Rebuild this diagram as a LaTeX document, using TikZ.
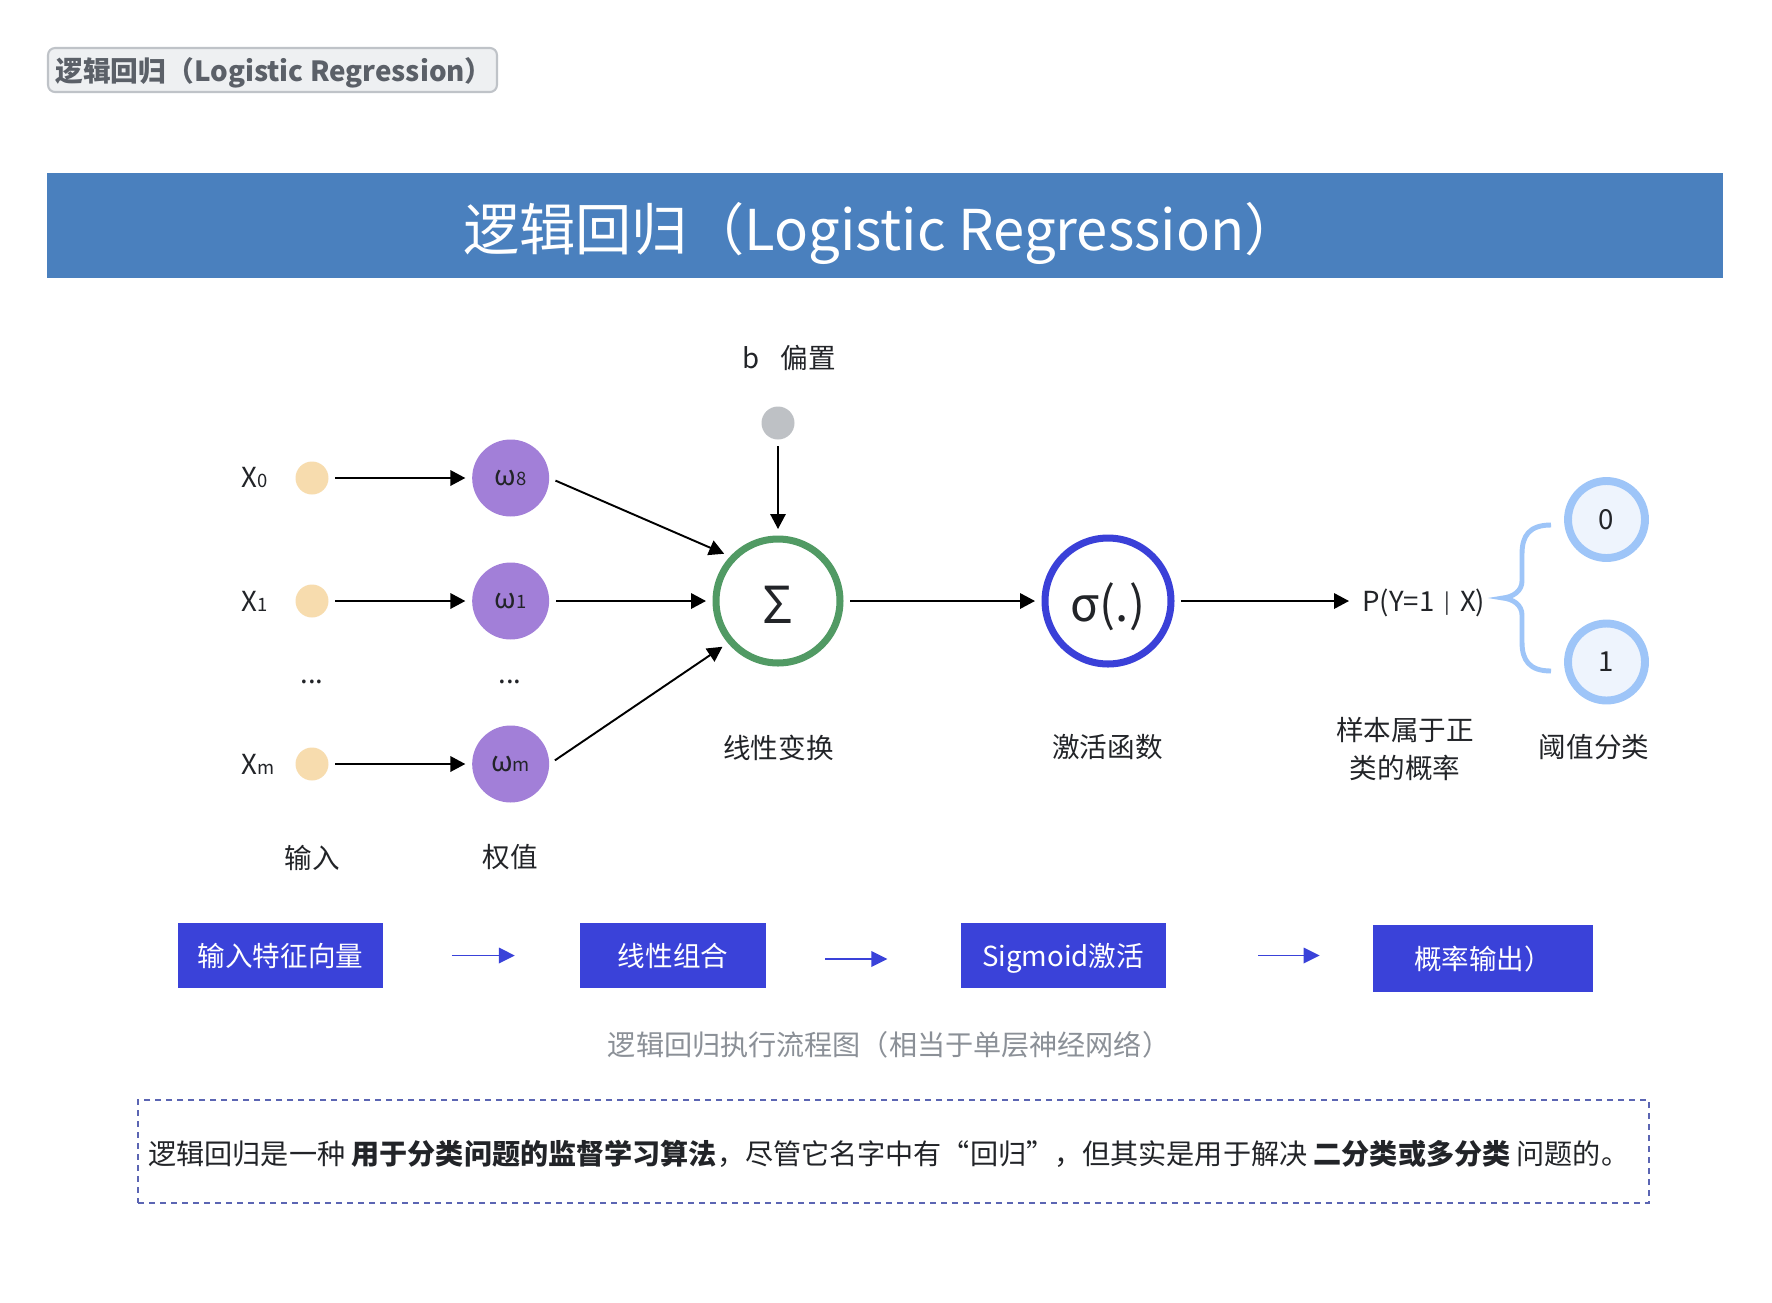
\documentclass[tikz,border=0pt]{standalone}
\usepackage{fontspec}
\setmainfont{Noto Sans CJK SC}
\usetikzlibrary{arrows.meta,positioning}
\definecolor{bannerblue}{HTML}{4A80BE}
\definecolor{tagfill}{HTML}{EEF0F2}
\definecolor{tagline}{HTML}{BFC3C8}
\definecolor{taggray}{HTML}{5B6068}
\definecolor{inputyellow}{HTML}{F7DCAE}
\definecolor{weightpurple}{HTML}{A27FD8}
\definecolor{sumgreen}{HTML}{519A64}
\definecolor{actblue}{HTML}{3A40D8}
\definecolor{biasgray}{HTML}{BEC1C5}
\definecolor{outblue}{HTML}{9EC5F8}
\definecolor{outfill}{HTML}{EEF4FD}
\definecolor{flowblue}{HTML}{3A42D9}
\definecolor{capgray}{HTML}{8B9097}
\definecolor{dashblue}{HTML}{5B65B3}
\definecolor{ink}{HTML}{222428}
\newcommand{\subidx}[1]{{\fontsize{10.5}{12}\selectfont #1}}

\begin{document}
\begin{tikzpicture}[x=0.02cm,y=-0.02cm,
   lbl/.style={text=ink,font=\fontsize{15.7}{21.5}\selectfont,inner sep=0pt,align=center},
   inp/.style={circle,fill=inputyellow,minimum size=0.66cm,inner sep=0pt},
   wt/.style={circle,fill=weightpurple,minimum size=1.54cm,inner sep=0pt,text=ink,
              font=\fontsize{15.7}{19}\selectfont},
   ring/.style={circle,line width=4pt,fill=white,inner sep=0pt},
   outc/.style={circle,draw=outblue,fill=outfill,line width=4.5pt,minimum size=1.54cm,
                inner sep=0pt,text=ink,font=\fontsize{15.7}{19}\selectfont},
   flow/.style={fill=flowblue,text=white,minimum height=1.3cm,inner sep=0pt,
                text height=16pt,text depth=3pt,font=\fontsize{15.7}{19}\selectfont},
   arr/.style={-{Triangle[length=3mm,width=3.1mm]},line width=1.1pt,
               shorten <=1.3mm,shorten >=1.3mm},
   flowarr/.style={-{Triangle[length=3.2mm,width=3.1mm]},line width=1.1pt,draw=flowblue}]
  \fill[white] (0,0) rectangle (1772,1302);
  \useasboundingbox (0,0) rectangle (1772,1302);

  % tag and title banner
  \node[draw=tagline,line width=1.2pt,fill=tagfill,rounded corners=4pt,
        minimum width=8.98cm,minimum height=0.88cm,inner sep=0pt] (tag) at (272.5,70) {};
  \node[anchor=west,inner sep=0pt,text=taggray,font=\bfseries\fontsize{15.8}{19}\selectfont]
       (tagtext) at ([xshift=0.16cm,yshift=-0.06cm]tag.west) {逻辑回归（Logistic Regression）};
  \node[fill=bannerblue,minimum width=33.52cm,minimum height=2.1cm,inner sep=0pt]
       (banner) at (885,225.5) {};
  \node[text=white,inner sep=0pt,font=\fontsize{32}{37}\selectfont]
       (title) at (882,233) {逻辑回归（Logistic Regression）};

  % bias
  \node[circle,fill=biasgray,minimum size=0.66cm,inner sep=0pt] (bias) at (778,423) {};
  \node[lbl] (biaslbl) at (789,358) {b\hspace{0.42cm}偏置};

  % inputs and weights
  \node[inp] (x0) at (312,478) {};
  \node[inp] (x1) at (312,601) {};
  \node[inp] (xm) at (312,764) {};
  \node[lbl,anchor=west] (x0lbl) at (241,478) {X\subidx{0}};
  \node[lbl,anchor=west] (x1lbl) at (241,601) {X\subidx{1}};
  \node[lbl,anchor=west] (xmlbl) at (241,764) {X\subidx{m}};
  \node[wt,right=2.86cm of x0] (w0) {ω\subidx{8}};
  \node[wt,right=2.86cm of x1] (w1) {ω\subidx{1}};
  \node[wt,right=2.86cm of xm] (wm) {ω\subidx{m}};
  \node[lbl,anchor=base] (xdots) at (312,683) {...};
  \node[lbl,anchor=base] (wdots) at (510,683) {...};
  \node[lbl] (inlbl) at (312,857.5) {输入};
  \node[lbl] (wtlbl) at (510,857.5) {权值};

  % summation and activation
  \node[ring,draw=sumgreen,minimum size=2.48cm] (sum) at (778,601) {};
  \node[lbl,font=\fontsize{29}{32}\selectfont] (sumsym) at ([yshift=-0.08cm]sum.center) {Σ};
  \node[ring,draw=actblue,minimum size=2.52cm] (act) at (1108,601) {};
  \node[lbl,font=\fontsize{27}{30}\selectfont] (actsym) at ([yshift=-0.12cm]act.center) {σ(.)};
  \node[lbl] (sumlbl) at (778.5,747.5) {线性变换};
  \node[lbl] (actlbl) at (1107.5,747.5) {激活函数};

  % output and threshold
  \node[lbl,anchor=west] (prob) at (1362,603)
       {P(Y=1\hspace{0.2cm}\raisebox{1pt}{\fontsize{12}{13}\selectfont|}\hspace{0.2cm}X)};
  \draw[outblue,line width=2.8pt] (1551,525) .. controls (1529,525) and (1522,536) .. (1522,554)
       -- (1522,581) .. controls (1522,591) and (1513,597) .. (1503,598)
       .. controls (1513,599) and (1522,605) .. (1522,615)
       -- (1522,642) .. controls (1522,660) and (1529,671) .. (1551,671);
  \node[outc] (out0) at (1606.5,519.5) {0};
  \node[outc] (out1) at (1606.5,662) {1};
  \node[lbl] (problbl) at (1405,749) {样本属于正\\类的概率};
  \node[lbl] (thrlbl) at (1594,747) {阈值分类};

  % connectors
  \draw[arr] (x0) -- (w0);
  \draw[arr] (x1) -- (w1);
  \draw[arr] (xm) -- (wm);
  \draw[arr] (w0.east) -- (sum.137);
  \draw[arr] (w1) -- (sum);
  \draw[arr] (wm.east) -- (sum.220);
  \draw[arr,line width=0.8pt] (bias) -- (sum);
  \draw[arr] (sum) -- (act);
  \draw[arr,shorten >=2.6mm] (act) -- (act -| prob.west);

  % flow chart
  \node[flow,minimum width=4.12cm] (f1) at (280.5,955.5) {输入特征向量};
  \node[flow,minimum width=3.72cm,right=3.92cm of f1] (f2) {线性组合};
  \node[flow,minimum width=4.1cm,right=3.88cm of f2] (f3) {Sigmoid激活};
  \node[flow,minimum width=4.4cm,minimum height=1.33cm] (f4) at (1483,958.5) {概率输出）};
  \draw[flowarr,shorten <=1.36cm,shorten >=1.3cm] (f1) -- (f2);
  \draw[flowarr,shorten <=1.18cm,shorten >=1.46cm] ([yshift=-0.07cm]f2.east) -- ([yshift=-0.07cm]f3.west);
  \draw[flowarr,shorten <=1.84cm,shorten >=1.06cm] (f3.east) -- (f3.east -| f4.west);
  \node[lbl,text=capgray,font=\fontsize{16}{19}\selectfont] (caption) at (889,1045)
       {逻辑回归执行流程图（相当于单层神经网络）};

  % note
  \node[draw=dashblue,line width=1.1pt,dash pattern=on 0.12cm off 0.1cm,
        minimum width=30.22cm,minimum height=2.06cm,inner sep=0pt] (note) at (893.5,1151.5) {};
  \node[lbl,anchor=west,font=\fontsize{16}{20}\selectfont] (notetext) at ([xshift=0.22cm,yshift=-0.05cm]note.west)
       {逻辑回归是一种 {\bfseries 用于分类问题的监督学习算法}，尽管它名字中有“回归”，但其实是用于解决 {\bfseries 二分类或多分类} 问题的。};
\end{tikzpicture}
\end{document}
